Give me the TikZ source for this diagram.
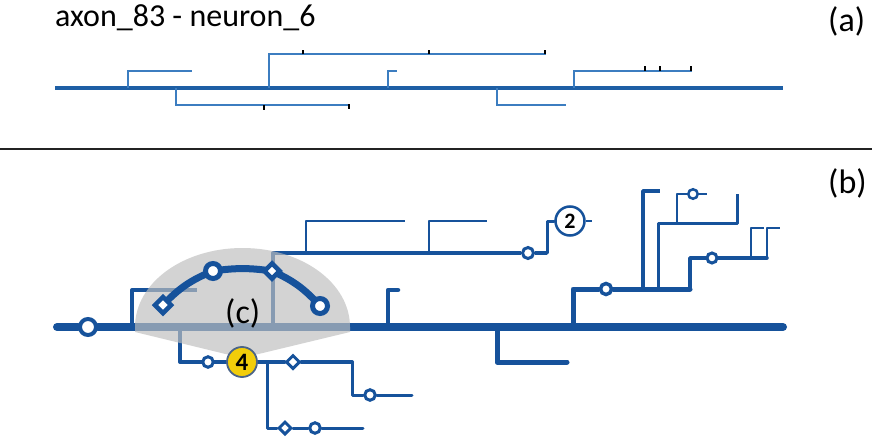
\documentclass[tikz,border=0pt]{standalone}
\usepackage{fontspec}
\setmainfont{Carlito}
\usetikzlibrary{shapes.geometric}
\pgfdeclarelayer{bg}
\pgfdeclarelayer{mid}
\pgfsetlayers{bg,mid,main}
\definecolor{adark}{RGB}{30,95,165}
\definecolor{alight}{RGB}{60,125,192}
\definecolor{bblue}{RGB}{22,82,155}
\definecolor{lensgray}{RGB}{190,190,190}
\definecolor{ylw}{RGB}{242,205,10}
\definecolor{ylwedge}{RGB}{75,100,135}
\definecolor{sepcol}{RGB}{35,35,35}
\begin{document}
\begin{tikzpicture}[x=1pt,y=-1pt,
  axm/.style={adark, line width=4.5pt},
  axb/.style={alight, line width=1.8pt},
  syn/.style={black, line width=2.2pt},
  bl/.style={bblue, line cap=round, line join=round},
  ring/.style={circle, draw=bblue, fill=white, inner sep=0pt},
  dia/.style={diamond, aspect=1, draw=bblue, fill=white, inner sep=0pt},
  lab/.style={inner sep=0pt, anchor=base west, font=\fontsize{34}{34}\selectfont}]
\useasboundingbox (0,0) rectangle (879,447);

% ---------- panel (a) ----------
\node[lab, font=\fontsize{32}{32}\selectfont] (title) at (55,27) {axon\_83 - neuron\_6};
\node[lab] (la) at (828,31) {(a)};
\coordinate (a0) at (55,88); \coordinate (a1) at (783,88);
\draw[axm] (a0) -- (a1);
\coordinate (ab1) at (128,88); \coordinate (ae1) at (192,71);
\draw[axb] (ab1) |- (ae1);
\coordinate (ab2) at (176,88); \coordinate (ae2) at (350,105);
\draw[axb] (ab2) |- (ae2);
\coordinate (ab3) at (269,88); \coordinate (ae3) at (546,54);
\draw[axb] (ab3) |- (ae3);
\coordinate (ab4) at (388,88); \coordinate (ae4) at (397,71);
\draw[axb] (ab4) |- (ae4);
\coordinate (ab5) at (497,88); \coordinate (ae5) at (566,105);
\draw[axb] (ab5) |- (ae5);
\coordinate (ab6) at (574,88); \coordinate (ae6) at (692,71);
\draw[axb] (ab6) |- (ae6);
% synapse ticks
\coordinate (t1) at (264,105); \draw[syn] (t1) -- ++(0,4.5);
\coordinate (t2) at (349,104); \draw[syn] (t2) -- ++(0,4.5);
\coordinate (t3) at (303,54); \draw[syn] (t3) -- ++(0,-4);
\coordinate (t4) at (429,54); \draw[syn] (t4) -- ++(0,-4);
\coordinate (t5) at (545,54); \draw[syn] (t5) -- ++(0,-4);
\coordinate (t6) at (645,71); \draw[syn] (t6) -- ++(0,-5);
\coordinate (t7) at (660,71); \draw[syn] (t7) -- ++(0,-5);
\coordinate (t8) at (691,71); \draw[syn] (t8) -- ++(0,-5);

% separator
\coordinate (sL) at (0,149); \coordinate (sR) at (872,149);
\draw[sepcol, line width=2.5pt] (sL) -- (sR);

% ---------- panel (b) ----------
\node[lab] (lb) at (828,193) {(b)};

% nodes
\node[ring, line width=4pt, minimum size=16pt] (m0) at (88,327) {};
\node[ring, line width=3pt, minimum size=11pt] (uc) at (528,253) {};
\node[ring, line width=2.5pt, minimum size=29pt, font=\bfseries\fontsize{22}{22}\selectfont] (n2) at (570,221) {2};
\node[ring, line width=3.5pt, minimum size=11pt] (rc) at (606,289) {};
\node[ring, line width=2.5pt, minimum size=9.5pt] (rc2) at (693,194) {};
\node[ring, line width=3pt, minimum size=10pt] (rc3) at (712,258) {};
\node[ring, line width=3pt, minimum size=10.5pt] (lc1) at (208,362) {};
\node[circle, draw=ylwedge, fill=ylw, line width=1.8pt, inner sep=0pt, minimum size=30pt,
      font=\bfseries\fontsize{25}{25}\selectfont] (n4) at (242,362) {4};
\node[dia, line width=3pt, minimum size=14pt] (ld1) at (293,362) {};
\node[ring, line width=3pt, minimum size=10.5pt] (lc2) at (370,395) {};
\node[dia, line width=3pt, minimum size=13pt] (ld2) at (285,428) {};
\node[ring, line width=3pt, minimum size=10.5pt] (lc3) at (315,428) {};
% (c) graph nodes
\node[dia, line width=4.5pt, minimum size=18pt] (d1) at (163,305) {};
\node[ring, line width=5pt, minimum size=15pt] (c1) at (213,271) {};
\node[dia, line width=4.5pt, minimum size=17pt] (d2) at (272,271) {};
\node[ring, line width=5pt, minimum size=15pt] (c2) at (320,306) {};
\node[lab] (lc) at (225,323) {(c)};

% coordinates
\coordinate (mL) at (57,327); \coordinate (mR) at (783,327);
\coordinate (g0) at (132,327); \coordinate (g1) at (197,290);
\coordinate (u0) at (273,327); \coordinate (u1) at (273,253);
\coordinate (u2) at (547,253); \coordinate (u3) at (547,221); \coordinate (u4) at (592,221);
\coordinate (u5) at (306,253); \coordinate (u6) at (405,221);
\coordinate (u7) at (429,253); \coordinate (u8) at (487,221);
\coordinate (s0) at (388,327); \coordinate (s1) at (398,290);
\coordinate (dd0) at (497,327); \coordinate (dd1) at (567,362);
\coordinate (r0) at (573,327); \coordinate (r1) at (573,289);
\coordinate (r2) at (643,289); \coordinate (r3) at (658,289); \coordinate (r4) at (690,289);
\coordinate (r5) at (660,191); \coordinate (r6) at (737,223); \coordinate (r7) at (737,194);
\coordinate (r8) at (677,223); \coordinate (r9) at (707,194);
\coordinate (r10) at (767,258); \coordinate (r11) at (751,258); \coordinate (r12) at (764,228);
\coordinate (r13) at (780,228);
\coordinate (l0) at (180,327); \coordinate (l1) at (267,362); \coordinate (l2) at (352,362);
\coordinate (l3) at (412,395); \coordinate (l4) at (363,428);

\begin{pgfonlayer}{bg}
\draw[bl, line width=8pt] (mL) -- (m0) -- (mR);
\draw[bl, line width=4pt, line cap=butt] (g0) |- (g1);
\draw[bl, line width=4pt, line cap=butt] (u0) -- (u1) -- (uc) -- (u2);
\draw[bl, line width=3pt] (u2) -- (u3) -- (n2);
\draw[bl, line width=2.5pt, line cap=butt] (n2) -- (u4);
\draw[bl, line width=2.5pt, line cap=butt] (u5) |- (u6);
\draw[bl, line width=2.5pt, line cap=butt] (u7) |- (u8);
\draw[bl, line width=4.5pt] (s0) |- (s1);
\draw[bl, line width=5pt] (dd0) |- (dd1);
\draw[bl, line width=5pt] (r0) -- (r1) -- (rc) -- (r4);
\draw[bl, line width=3.5pt, line cap=butt] (r2) |- (r5);
\draw[bl, line width=3pt, line cap=butt] (r3) |- (r6) -- (r7);
\draw[bl, line width=2.5pt, line cap=butt] (r8) |- (rc2) -- (r9);
\draw[bl, line width=3.5pt] (r4) |- (rc3) -- (r10);
\draw[bl, line width=2pt, line cap=butt] (r11) |- (r12);
\draw[bl, line width=2pt, line cap=butt] (r10) |- (r13);
\draw[bl, line width=4pt] (l0) |- (lc1) -- (n4) -- (ld1) -- (l2);
\draw[bl, line width=3pt] (l2) |- (lc2) -- (l3);
\draw[bl, line width=3pt] (l1) |- (ld2) -- (lc3) -- (l4);
\end{pgfonlayer}

\begin{pgfonlayer}{mid}
\fill[lensgray, opacity=0.68] (135,332) -- (135,327)
  .. controls (135,283) and (183,248) .. (242.5,248)
  .. controls (302,248) and (350,283) .. (350,327)
  -- (350,332) -- (242,358) -- cycle;
\draw[bl, line width=7pt] (d1.center) to[bend left=12] (c1.center)
  to[bend left=8] (d2.center) to[bend left=12] (c2.center);
\end{pgfonlayer}
\end{tikzpicture}
\end{document}
